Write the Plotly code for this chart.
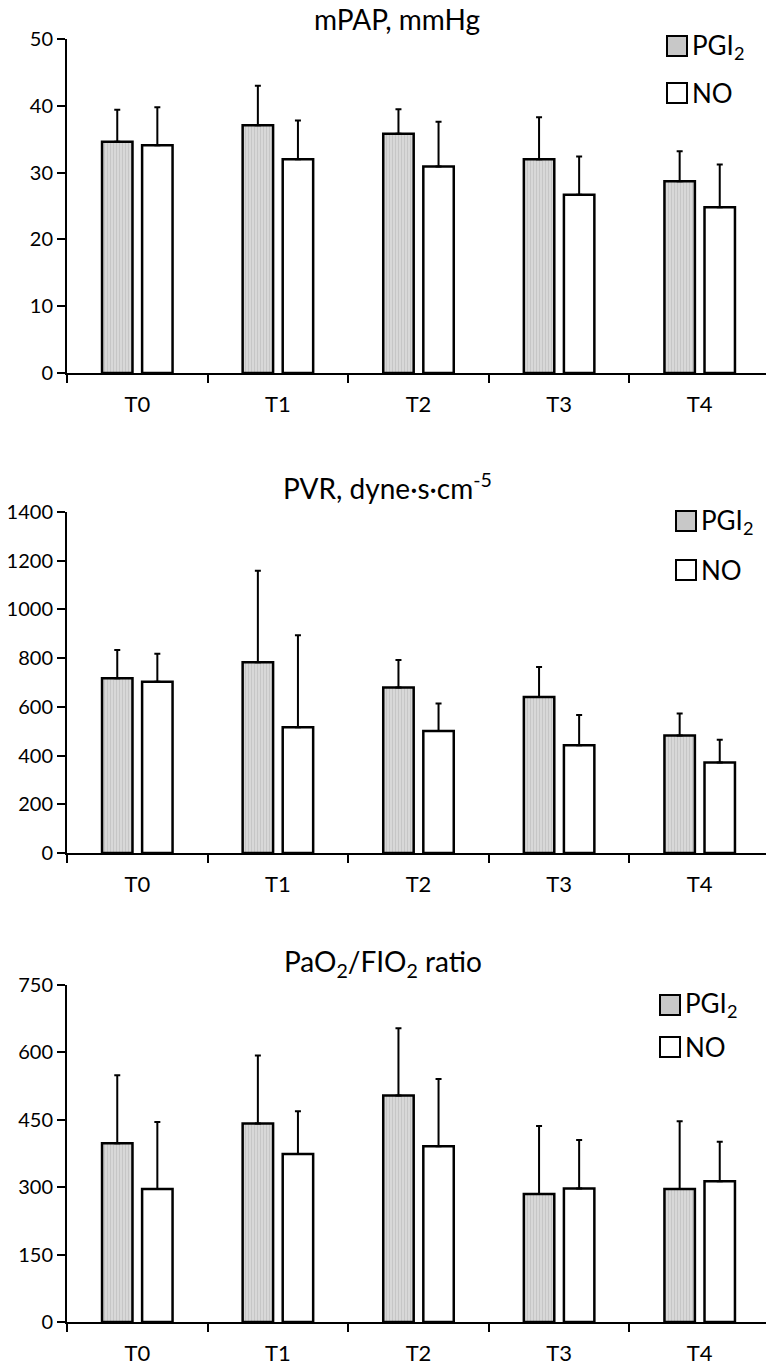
import plotly.graph_objects as go
from plotly.subplots import make_subplots

categories = ["T0", "T1", "T2", "T3", "T4"]

mpap_pgi2 = [34.6, 37.1, 35.8, 32.0, 28.7]
mpap_pgi2_sd = [4.8, 5.9, 3.7, 6.3, 4.5]
mpap_no = [34.1, 32.0, 30.9, 26.7, 24.8]
mpap_no_sd = [5.7, 5.8, 6.7, 5.7, 6.4]

pvr_pgi2 = [717, 783, 679, 640, 482]
pvr_pgi2_sd = [116, 376, 113, 124, 91]
pvr_no = [703, 516, 501, 442, 372]
pvr_no_sd = [115, 378, 113, 125, 93]

pf_pgi2 = [398, 442, 504, 285, 296]
pf_pgi2_sd = [151, 151, 150, 151, 151]
pf_no = [296, 374, 391, 297, 313]
pf_no_sd = [149, 95, 150, 108, 88]

titles = ["mPAP, mmHg", "PVR, dyne·s·cm<sup>-5</sup>", "PaO<sub>2</sub>/FIO<sub>2</sub> ratio"]
y_ranges = [[0, 50], [0, 1400], [0, 750]]
y_dticks = [10, 200, 150]
series_names = ["PGI<sub>2</sub>", "NO"]

# the page body adds an 8px offset; size the figure so it fills the 774x1365 window
OFF = 8
W, H = 774 - OFF, 1365 - OFF
ML = 67 - OFF
MR = W - (770 - OFF)
PW = W - ML - MR
FONT = "Lato, 'Open Sans', sans-serif"

def px_x(px):
    return (px - OFF - ML) / PW

def px_y(py):
    return 1 - (py - OFF) / H

# panel plot-area pixel extents in window coords (top, bottom)
panels_px = [(39, 373), (512, 853), (985, 1322)]
title_px = [(397, 19), (387, 487), (383, 963)]
legend_px = [(667, 46, 93), (676, 521, 570), (660, 1005, 1047)]

fig = make_subplots(rows=3, cols=1)

data = [
    (mpap_pgi2, mpap_pgi2_sd, mpap_no, mpap_no_sd),
    (pvr_pgi2, pvr_pgi2_sd, pvr_no, pvr_no_sd),
    (pf_pgi2, pf_pgi2_sd, pf_no, pf_no_sd),
]

gray_marker = dict(
    color="#d0d0d0",
    line=dict(color="black", width=2.5),
    pattern=dict(shape="|", fgcolor="#b4b4b4", bgcolor="#d8d8d8", size=3, solidity=0.35),
)
white_marker = dict(color="white", line=dict(color="black", width=2.5))

for i, (a, a_sd, b, b_sd) in enumerate(data):
    r = i + 1
    fig.add_trace(go.Bar(
        x=categories, y=a, name="PGI2", marker=gray_marker, showlegend=False,
        error_y=dict(type="data", symmetric=False, array=a_sd, arrayminus=[0] * len(a),
                     color="black", thickness=2, width=3),
    ), row=r, col=1)
    fig.add_trace(go.Bar(
        x=categories, y=b, name="NO", marker=white_marker, showlegend=False,
        error_y=dict(type="data", symmetric=False, array=b_sd, arrayminus=[0] * len(b),
                     color="black", thickness=2, width=3),
    ), row=r, col=1)

for i in range(3):
    top, bot = panels_px[i]
    sfx = "" if i == 0 else str(i + 1)
    fig.layout["yaxis" + sfx].update(
        domain=[px_y(bot), px_y(top)], automargin=False,
        range=y_ranges[i], dtick=y_dticks[i], tick0=0,
        showgrid=False, zeroline=False, showline=True, linecolor="black", linewidth=2,
        ticks="outside", ticklen=8, tickwidth=2, tickcolor="black",
        tickfont=dict(family=FONT, size=20, color="black"),
    )
    fig.layout["xaxis" + sfx].update(
        domain=[0, 1], automargin=False,
        showgrid=False, zeroline=False, showline=True, linecolor="black", linewidth=2,
        ticks="outside", ticklen=8, tickwidth=2, tickcolor="black", tickson="boundaries",
        tickfont=dict(family=FONT, size=22, color="black"), ticklabelstandoff=11,
    )
    tx, ty = title_px[i]
    fig.add_annotation(text=titles[i], xref="paper", yref="paper", x=px_x(tx), y=px_y(ty),
                       xanchor="center", yanchor="middle", showarrow=False,
                       font=dict(family=FONT, size=28, color="black"))
    lx, ly1, ly2 = legend_px[i]
    sw = 20
    fig.add_shape(type="rect", xref="paper", yref="paper",
                  x0=px_x(lx), x1=px_x(lx + sw), y0=px_y(ly1 + sw / 2), y1=px_y(ly1 - sw / 2),
                  fillcolor="#c8c8c8", line=dict(color="black", width=2))
    fig.add_shape(type="rect", xref="paper", yref="paper",
                  x0=px_x(lx), x1=px_x(lx + sw), y0=px_y(ly2 + sw / 2), y1=px_y(ly2 - sw / 2),
                  fillcolor="white", line=dict(color="black", width=2))
    for name, ly in zip(series_names, (ly1, ly2)):
        fig.add_annotation(text=name, xref="paper", yref="paper", x=px_x(lx + sw + 3), y=px_y(ly),
                           xanchor="left", yanchor="middle", showarrow=False,
                           font=dict(family=FONT, size=26, color="black"))

fig.update_layout(
    width=W, height=H,
    margin=dict(l=ML, r=MR, t=0, b=0, autoexpand=False),
    paper_bgcolor="white", plot_bgcolor="white",
    barmode="group", bargap=0.43, bargroupgap=0.24,
    showlegend=False,
    font=dict(family=FONT, color="black"),
)

fig.write_html("out.html")
